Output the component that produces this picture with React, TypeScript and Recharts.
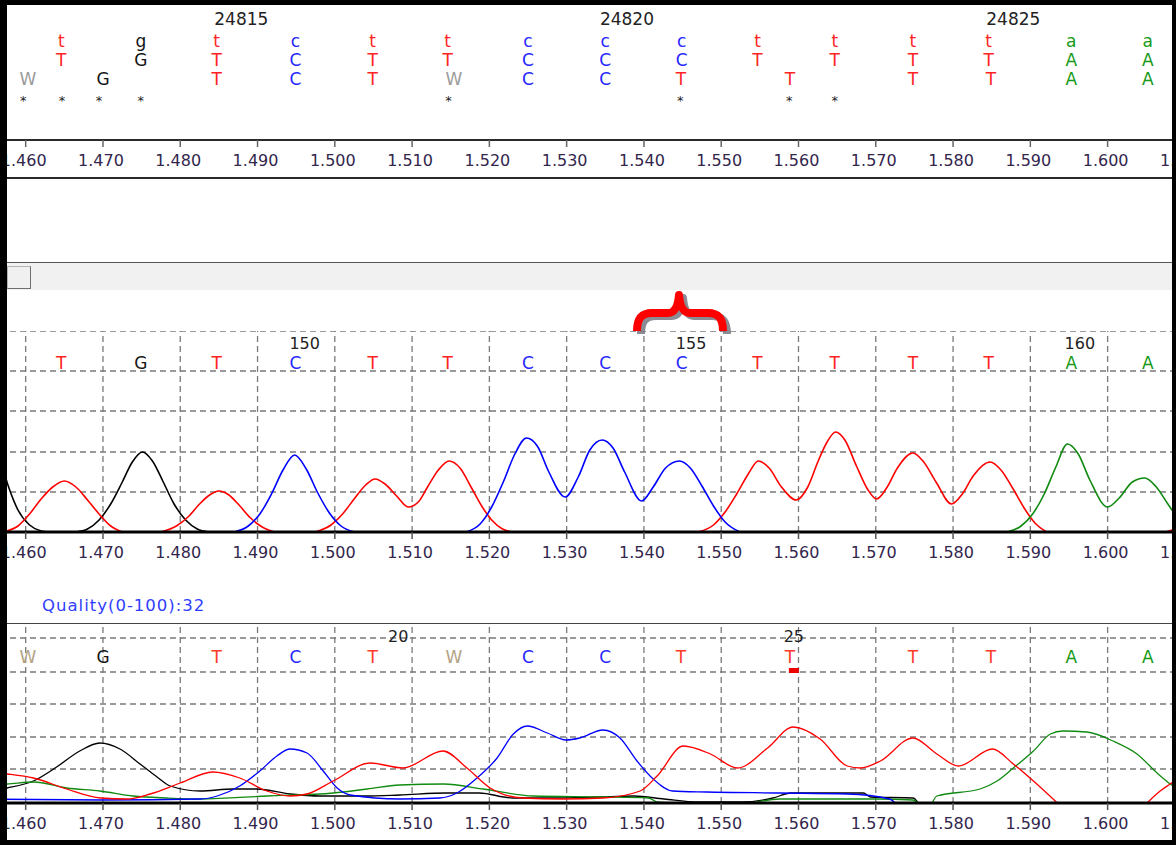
import React from "react";
import { ComposedChart, Line, Scatter, XAxis, YAxis, ReferenceLine } from "recharts";

type Pt = [number, number | null];

// x axis (retention, shared by every panel)
const xTicks = [1.46, 1.47, 1.48, 1.49, 1.5, 1.51, 1.52, 1.53, 1.54, 1.55, 1.56, 1.57, 1.58, 1.59, 1.6, 1.61];
const xDomain = [1.4515, 1.61713];

// reference / consensus rows (top panel)
const basePos = [1.4646, 1.4749, 1.4847, 1.4949, 1.5049, 1.5146, 1.525, 1.535, 1.5449, 1.5547, 1.5647, 1.5748, 1.5846, 1.5953, 1.6052];
const consensusLower = ["t", "g", "t", "c", "t", "t", "c", "c", "c", "t", "t", "t", "t", "a", "a"];
const consensusUpper = ["T", "G", "T", "C", "T", "T", "C", "C", "C", "T", "T", "T", "T", "A", "A"];
const readPos = [1.4603, 1.47, 1.4847, 1.4949, 1.5049, 1.5154, 1.525, 1.535, 1.5448, 1.5589, 1.5748, 1.5849, 1.5953, 1.6052];
const readCalls = ["W", "G", "T", "C", "T", "W", "C", "C", "T", "T", "T", "T", "A", "A"];
const diffPos = [1.4597, 1.4647, 1.4695, 1.4749, 1.5147, 1.5447, 1.5588, 1.5647];
const refNumPos = [1.4879, 1.5378, 1.5878];
const refNums = ["24815", "24820", "24825"];

// sample trace calls (middle panel)
const sampleCalls = ["T", "G", "T", "C", "T", "T", "C", "C", "C", "T", "T", "T", "T", "A", "A"];
const sampleNumPos = [1.4961, 1.5461, 1.5964];
const sampleNums = ["150", "155", "160"];

// read trace (bottom panel)
const readNumPos = [1.5082, 1.5594];
const readNums = ["20", "25"];
const lowQualityPos = [1.5594];

// middle panel signals
const sampleRed: Pt[] = [
  [1.457, 0], [1.459, 6], [1.4605, 18], [1.462, 33], [1.4635, 45], [1.465, 51], [1.4665, 45], [1.468, 32], [1.4695, 18], [1.471, 6], [1.4725, 0],
  [1.475, null],
  [1.4775, 0], [1.4795, 6], [1.481, 15], [1.4825, 28], [1.4838, 37], [1.485, 41], [1.4863, 37], [1.4876, 27], [1.4891, 14], [1.4906, 5], [1.4922, 0],
  [1.495, null],
  [1.4975, 0], [1.4995, 7], [1.501, 18], [1.5025, 33], [1.504, 47], [1.5052, 53], [1.5065, 48], [1.508, 36], [1.5095, 25], [1.5108, 30], [1.512, 45],
  [1.5134, 62], [1.5148, 71], [1.5162, 64], [1.5177, 44], [1.519, 26], [1.5203, 12], [1.5217, 3], [1.523, 0],
  [1.535, null],
  [1.547, 0], [1.549, 7], [1.5505, 20], [1.552, 38], [1.5535, 58], [1.5548, 71], [1.5562, 64], [1.5578, 45], [1.5597, 32], [1.5612, 45], [1.5625, 70],
  [1.5637, 90], [1.5648, 100], [1.566, 92], [1.5675, 66], [1.569, 42], [1.5701, 33], [1.5714, 44], [1.5728, 64], [1.5748, 79], [1.5762, 70],
  [1.5778, 50], [1.5798, 28], [1.5812, 38], [1.5826, 56], [1.5848, 70], [1.5862, 62], [1.5877, 44], [1.5892, 24], [1.5906, 9], [1.5921, 0],
  [1.6, null],
  [1.6075, 0], [1.6095, 6], [1.6115, 20], [1.6135, 40], [1.615, 50],
];
const sampleBlack: Pt[] = [
  [1.452, 60], [1.4535, 98], [1.4545, 110], [1.456, 92], [1.4577, 47], [1.459, 22], [1.4605, 7], [1.462, 1], [1.463, 0],
  [1.465, null],
  [1.4665, 0], [1.468, 3], [1.4695, 12], [1.471, 28], [1.4725, 50], [1.4738, 70], [1.4751, 80], [1.4764, 71], [1.4778, 50], [1.4792, 28],
  [1.4807, 12], [1.4822, 3], [1.4837, 0],
];
const sampleBlue: Pt[] = [
  [1.487, 0], [1.4888, 6], [1.4903, 18], [1.4918, 38], [1.4933, 62], [1.4948, 77], [1.4963, 63], [1.4978, 39], [1.4993, 19], [1.5008, 6], [1.5026, 0],
  [1.51, null],
  [1.517, 0], [1.5188, 8], [1.5203, 25], [1.5218, 50], [1.5233, 78], [1.5248, 94], [1.5262, 86], [1.5277, 60], [1.5298, 35], [1.5315, 55],
  [1.533, 82], [1.5346, 92], [1.536, 84], [1.5375, 60], [1.5397, 31], [1.5412, 45], [1.5428, 64], [1.5446, 71], [1.546, 64], [1.5475, 46],
  [1.549, 26], [1.5505, 10], [1.5524, 0],
];
const sampleGreen: Pt[] = [
  [1.587, 0], [1.5888, 6], [1.5903, 18], [1.5918, 38], [1.5933, 65], [1.5948, 88], [1.5962, 78], [1.5977, 52], [1.6, 25], [1.6015, 34],
  [1.6032, 50], [1.6048, 54], [1.6063, 45], [1.6078, 28], [1.6093, 12], [1.6108, 3], [1.612, 0],
];

// bottom panel signals
const readBlack: Pt[] = [
  [1.453, 10], [1.4576, 15], [1.461, 22], [1.464, 36], [1.467, 52], [1.4696, 60], [1.4722, 54], [1.4748, 39], [1.477, 26], [1.4787, 17],
  [1.4826, 12], [1.4868, 14], [1.4899, 14], [1.4942, 9], [1.4981, 7], [1.504, 7], [1.5084, 8], [1.5144, 10], [1.5187, 10], [1.523, 5],
  [1.5283, 5], [1.534, 6], [1.5387, 7], [1.5426, 4], [1.547, 1], [1.5526, 1], [1.5567, 5], [1.559, 10], [1.5684, 10], [1.5693, 6],
  [1.5748, 5], [1.5755, 0],
];
const readRed: Pt[] = [
  [1.453, 32], [1.4576, 29], [1.461, 25], [1.4653, 14], [1.4697, 5], [1.4731, 4], [1.4761, 9], [1.48, 20], [1.4842, 31], [1.4877, 25],
  [1.4912, 12], [1.4942, 7], [1.4964, 9], [1.4998, 22], [1.5046, 40], [1.5088, 35], [1.514, 52], [1.5171, 35], [1.5201, 15], [1.5243, 5],
  [1.5295, 4], [1.5347, 5], [1.5395, 12], [1.5417, 27], [1.5451, 57], [1.5486, 49], [1.5521, 35], [1.556, 55], [1.5593, 76], [1.5628, 64],
  [1.5663, 37], [1.568, 35], [1.5706, 42], [1.5748, 65], [1.5779, 49], [1.5807, 37], [1.5851, 54], [1.5878, 39], [1.5904, 22], [1.5935, 0],
  [1.6, null],
  [1.6051, 0], [1.6068, 12], [1.6081, 19], [1.611, 35],
];
const readBlue: Pt[] = [
  [1.453, 4], [1.47, 3], [1.4826, 4], [1.4848, 7], [1.4877, 17], [1.4903, 32], [1.4925, 47], [1.4942, 54], [1.4964, 50], [1.4985, 32],
  [1.5003, 15], [1.502, 8], [1.5084, 4], [1.5136, 5], [1.5158, 10], [1.5184, 25], [1.521, 45], [1.5231, 69], [1.5249, 77], [1.5275, 70],
  [1.5299, 63], [1.5317, 65], [1.5347, 73], [1.5369, 65], [1.5391, 42], [1.5412, 24], [1.5437, 12], [1.5481, 11], [1.5576, 10], [1.5663, 9],
  [1.5718, 4], [1.5725, 0],
];
const readGreen: Pt[] = [
  [1.453, 18], [1.4576, 19], [1.461, 21], [1.4653, 15], [1.4696, 12], [1.4739, 7], [1.4783, 5], [1.4826, 4], [1.4912, 7], [1.4998, 10],
  [1.5042, 14], [1.5084, 18], [1.5141, 19], [1.5192, 14], [1.5257, 7], [1.5343, 6], [1.5406, 5], [1.5417, 1], [1.544, 0],
  [1.55, null],
  [1.554, 0], [1.5576, 4], [1.57, 4], [1.5748, 3], [1.5755, 0],
  [1.5765, null],
  [1.5773, 0], [1.5779, 7], [1.5835, 14], [1.5857, 22], [1.5878, 35], [1.5904, 52], [1.5926, 69], [1.5942, 72], [1.5973, 71], [1.6007, 62],
  [1.6038, 49], [1.6064, 30], [1.6081, 19], [1.611, 6],
];

const sampleGrid = [40, 80, 121, 161, 201];
const readGrid = [34, 66, 99, 131, 165];

const FONT = "'DejaVu Sans', Verdana, sans-serif";
const callColor: Record<string, string> = { A: "#179a17", C: "#2626ff", G: "#141414", T: "#ff2424", W: "#9c9c9c" };
const readColor: Record<string, string> = { ...callColor, T: "#ff3a28", W: "#b3a386" };

const rows = (pts: Pt[]) => pts.map(([x, y]) => ({ x, y }));
const labelRow = (xs: number[], labels: string[], y: number) => xs.map((x, i) => ({ x, y, label: labels[i] }));

const textShape = (size: number, colors: Record<string, string>) => (p: any) => (
  <text
    x={p.cx}
    y={p.cy}
    dy="0.36em"
    textAnchor="middle"
    fontSize={size}
    fontFamily={FONT}
    fill={colors[String(p.payload.label).toUpperCase()] || "#222"}
  >
    {p.payload.label}
  </text>
);

const markShape = (p: any) => <rect x={p.cx - 5} y={p.cy - 3} width={10} height={5} fill="#ee0000" />;

const xAxisBase = {
  type: "number" as const,
  dataKey: "x",
  domain: xDomain,
  ticks: xTicks,
  interval: 0 as const,
  allowDataOverflow: true,
  tickFormatter: (v: number) => v.toFixed(3),
  tickSize: 7,
  tickMargin: 8,
  tick: { fontSize: 16, fill: "#33264d", fontFamily: FONT, dx: -2 },
};

const grid = { stroke: "#7a7a7a", strokeDasharray: "6 4", strokeWidth: 1.3 };
const margin = { top: 0, right: 0, bottom: 0, left: 0 };

function TracePanel({
  top, plotH, yMax, hLines, solidTop, traces, strokeW, calls, callPos, colors, callY, nums, numPos, numY, marks,
}: any) {
  return (
    <div style={{ position: "absolute", left: -40, top }}>
      <ComposedChart width={1280} height={plotH + 30} margin={margin}>
        <XAxis {...xAxisBase} height={30} axisLine={{ stroke: "#000", strokeWidth: 3 }} tickLine={{ stroke: "#555", strokeWidth: 1.5 }} />
        <YAxis hide type="number" dataKey="y" domain={[0, yMax]} allowDataOverflow />
        {xTicks.map((t) => (
          <ReferenceLine key={"v" + t} x={t} {...grid} />
        ))}
        {hLines.map((h: number) => (
          <ReferenceLine key={"h" + h} y={h} {...grid} />
        ))}
        {solidTop && <ReferenceLine y={yMax} stroke="#444" strokeWidth={2} />}
        {traces.map(([pts, color]: [Pt[], string], i: number) => (
          <Line
            key={i}
            data={rows(pts)}
            dataKey="y"
            type="monotone"
            stroke={color}
            strokeWidth={strokeW}
            dot={false}
            connectNulls={false}
            isAnimationActive={false}
          />
        ))}
        <Scatter data={labelRow(callPos, calls, callY)} dataKey="y" shape={textShape(17, colors)} isAnimationActive={false} />
        <Scatter data={labelRow(numPos, nums, numY)} dataKey="y" shape={textShape(16, {})} isAnimationActive={false} />
        {marks && (
          <Scatter data={labelRow(marks, marks.map(() => ""), 132)} dataKey="y" shape={markShape} isAnimationActive={false} />
        )}
      </ComposedChart>
    </div>
  );
}

export default function App() {
  return (
    <div
      style={{
        position: "absolute",
        left: 0,
        top: 0,
        width: 1176,
        height: 845,
        background: "#fff",
        overflow: "hidden",
        fontFamily: FONT,
      }}
    >
      {/* alignment panel */}
      <div style={{ position: "absolute", left: -40, top: 5 }}>
        <ComposedChart width={1280} height={173} margin={margin}>
          <XAxis {...xAxisBase} height={38} axisLine={{ stroke: "#2a2a2a", strokeWidth: 2 }} tickLine={{ stroke: "#666", strokeWidth: 1.5 }} />
          <YAxis hide type="number" dataKey="y" domain={[0, 135]} allowDataOverflow />
          <Scatter data={labelRow(refNumPos, refNums, 121)} dataKey="y" shape={textShape(17, {})} isAnimationActive={false} />
          <Scatter data={labelRow(basePos, consensusLower, 99)} dataKey="y" shape={textShape(17, callColor)} isAnimationActive={false} />
          <Scatter data={labelRow(basePos, consensusUpper, 80)} dataKey="y" shape={textShape(17, callColor)} isAnimationActive={false} />
          <Scatter data={labelRow(readPos, readCalls, 61)} dataKey="y" shape={textShape(17, callColor)} isAnimationActive={false} />
          <Scatter
            data={labelRow(diffPos, diffPos.map(() => "*"), 40)}
            dataKey="y"
            shape={textShape(13, {})}
            isAnimationActive={false}
          />
        </ComposedChart>
      </div>
      <div style={{ position: "absolute", left: 0, top: 177, width: 1176, height: 2, background: "#2a2a2a" }} />

      {/* scroll strip */}
      <div style={{ position: "absolute", left: 0, top: 262, width: 1176, height: 1, background: "#555" }} />
      <div style={{ position: "absolute", left: 0, top: 263, width: 1176, height: 27, background: "#f1f1f1" }} />
      <div
        style={{
          position: "absolute",
          left: 7,
          top: 266,
          width: 22,
          height: 21,
          background: "#f0f0f0",
          border: "1px solid #b4b4b4",
          borderRightColor: "#6e6e6e",
          borderBottomColor: "#6e6e6e",
        }}
      />

      {/* brace marking the position */}
      <svg width={1176} height={845} style={{ position: "absolute", left: 0, top: 0 }}>
        <g fill="none" strokeWidth={8} strokeLinejoin="round">
          <path
            transform="translate(4,3)"
            stroke="#8c8c96"
            d="M 637 331 C 637 319 641 313 652 313 L 668 313 C 675 313 678 306 679 295 C 680 306 683 313 690 313 L 708 313 C 719 313 723 319 723 331"
          />
          <path
            stroke="#ff0000"
            d="M 637 331 C 637 319 641 313 652 313 L 668 313 C 675 313 678 306 679 295 C 680 306 683 313 690 313 L 708 313 C 719 313 723 319 723 331"
          />
        </g>
      </svg>

      <TracePanel
        top={331}
        plotH={201}
        yMax={201}
        hLines={sampleGrid}
        solidTop={false}
        strokeW={1.6}
        traces={[
          [sampleBlack, "#000000"],
          [sampleRed, "#ff0000"],
          [sampleBlue, "#0000ff"],
          [sampleGreen, "#108a10"],
        ]}
        calls={sampleCalls}
        callPos={basePos}
        colors={callColor}
        callY={169}
        nums={sampleNums}
        numPos={sampleNumPos}
        numY={189}
      />

      <div style={{ position: "absolute", left: 42, top: 596, fontSize: 16.5, lineHeight: "20px", color: "#2f3dff", letterSpacing: 1 }}>
        Quality(0-100):32
      </div>

      <TracePanel
        top={623}
        plotH={180}
        yMax={180}
        hLines={readGrid}
        solidTop={true}
        strokeW={1.3}
        traces={[
          [readBlack, "#000000"],
          [readGreen, "#108a10"],
          [readBlue, "#0000ff"],
          [readRed, "#ff0000"],
        ]}
        calls={readCalls}
        callPos={readPos}
        colors={readColor}
        callY={146}
        nums={readNums}
        numPos={readNumPos}
        numY={167}
        marks={lowQualityPos}
      />

      {/* window frame */}
      <div
        style={{
          position: "absolute",
          left: 0,
          top: 0,
          width: 1176,
          height: 845,
          boxSizing: "border-box",
          borderStyle: "solid",
          borderColor: "#000",
          borderWidth: "5px 4px 5px 7px",
          pointerEvents: "none",
        }}
      />
    </div>
  );
}
